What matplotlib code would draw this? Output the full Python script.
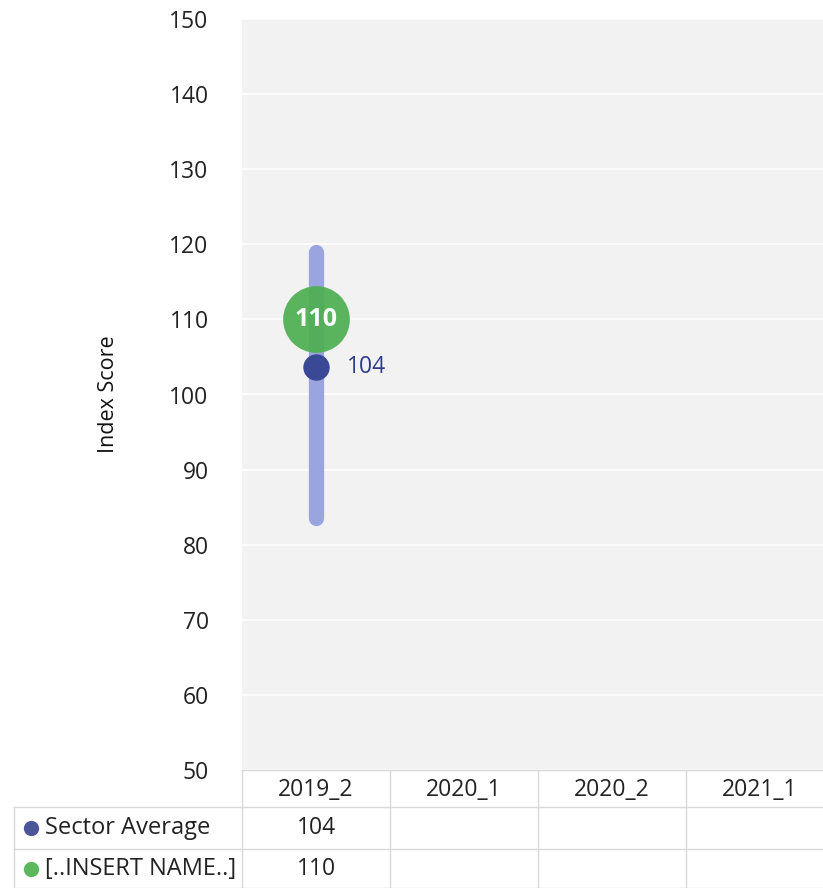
import matplotlib
matplotlib.use("Agg")
import matplotlib.pyplot as plt

categories = ["2019_2", "2020_1", "2020_2", "2021_1"]
sector_avg = [103.7, None, None, None]
company = [110, None, None, None]
range_low = [83.6, None, None, None]
range_high = [119.0, None, None, None]
series_names = ["Sector Average", "[..INSERT NAME..]"]
yticks = [50, 60, 70, 80, 90, 100, 110, 120, 130, 140, 150]

W, H = 823, 888
fig = plt.figure(figsize=(W / 100, H / 100), dpi=100)
plt.rcParams['font.family'] = ['Open Sans', 'DejaVu Sans']

colw = 148
ax_left, ax_right = 242, 242 + 4 * colw
ax_top, ax_bot = 19, 770
ax = fig.add_axes([ax_left / W, 1 - ax_bot / H, (ax_right - ax_left) / W, (ax_bot - ax_top) / H])
ax.set_facecolor("#f2f2f2")
ax.set_xlim(-0.5, len(categories) - 0.5)
ax.set_ylim(50, 150)
ax.set_yticks(yticks)
ax.tick_params(axis='y', length=0, pad=24, labelsize=16.5, labelcolor="#222222")
ax.set_xticks([])
for s in ax.spines.values():
    s.set_visible(False)
ax.grid(axis='y', color='white', linewidth=1.2)
ax.set_axisbelow(True)
ax.set_ylabel("Index Score", fontsize=15.5, labelpad=36, color="#111111")

green = "#4caf50"
blue = "#3b4896"
for i, cat in enumerate(categories):
    if range_low[i] is not None:
        ax.plot([i, i], [range_low[i], range_high[i]], color="#9aa5e0", linewidth=11,
                solid_capstyle='round', zorder=2)
    if company[i] is not None:
        ax.plot([i], [company[i]], 'o', color=green, markersize=48, alpha=0.92, zorder=3,
                markeredgewidth=0)
        ax.text(i, company[i], f"{company[i]:.0f}", color="white", fontsize=18,
                fontweight='bold', ha='center', va='center', zorder=5)
    if sector_avg[i] is not None:
        ax.plot([i], [sector_avg[i]], 'o', color=blue, markersize=19, zorder=4,
                markeredgewidth=0)
        ax.text(i + 0.21, sector_avg[i], f"{sector_avg[i]:.0f}", color="#2e3b8c",
                fontsize=16.5, ha='left', va='center', zorder=5)

# table
tab_left = 14
rows_y = [770, 807, 849, 888]
tax = fig.add_axes([0, 0, 1, 1])
tax.set_xlim(0, W)
tax.set_ylim(H, 0)
tax.axis('off')
lc = "#d9d9d9"
tax.plot([ax_left, ax_right], [rows_y[0], rows_y[0]], color=lc, lw=1)
for y in rows_y[1:3]:
    tax.plot([tab_left, ax_right], [y, y], color=lc, lw=1)
tax.plot([tab_left, ax_right], [rows_y[3] - 0.5, rows_y[3] - 0.5], color=lc, lw=1)
for k in range(len(categories) + 1):
    x = ax_left + k * colw
    tax.plot([x, x], [rows_y[0], rows_y[3]], color=lc, lw=1)
tax.plot([tab_left, tab_left], [rows_y[1], rows_y[3]], color=lc, lw=1)

for k, cat in enumerate(categories):
    cx = ax_left + (k + 0.5) * colw
    tax.text(cx, (rows_y[0] + rows_y[1]) / 2 + 1, cat, ha='center', va='center',
             fontsize=16.5, color="#222222")
row_vals = [sector_avg, company]
row_colors = ["#4a5699", "#5cb85c"]
for r in range(2):
    cy = (rows_y[r + 1] + rows_y[r + 2]) / 2
    tax.plot([31], [cy], 'o', color=row_colors[r], markersize=11, markeredgewidth=0)
    tax.text(45, cy, series_names[r], ha='left', va='center', fontsize=17, color="#222222")
    for k, v in enumerate(row_vals[r]):
        if v is not None:
            cx = ax_left + (k + 0.5) * colw
            tax.text(cx, cy, f"{v:.0f}", ha='center', va='center', fontsize=16.5,
                     color="#222222")

fig.savefig("out.png", dpi=100)
